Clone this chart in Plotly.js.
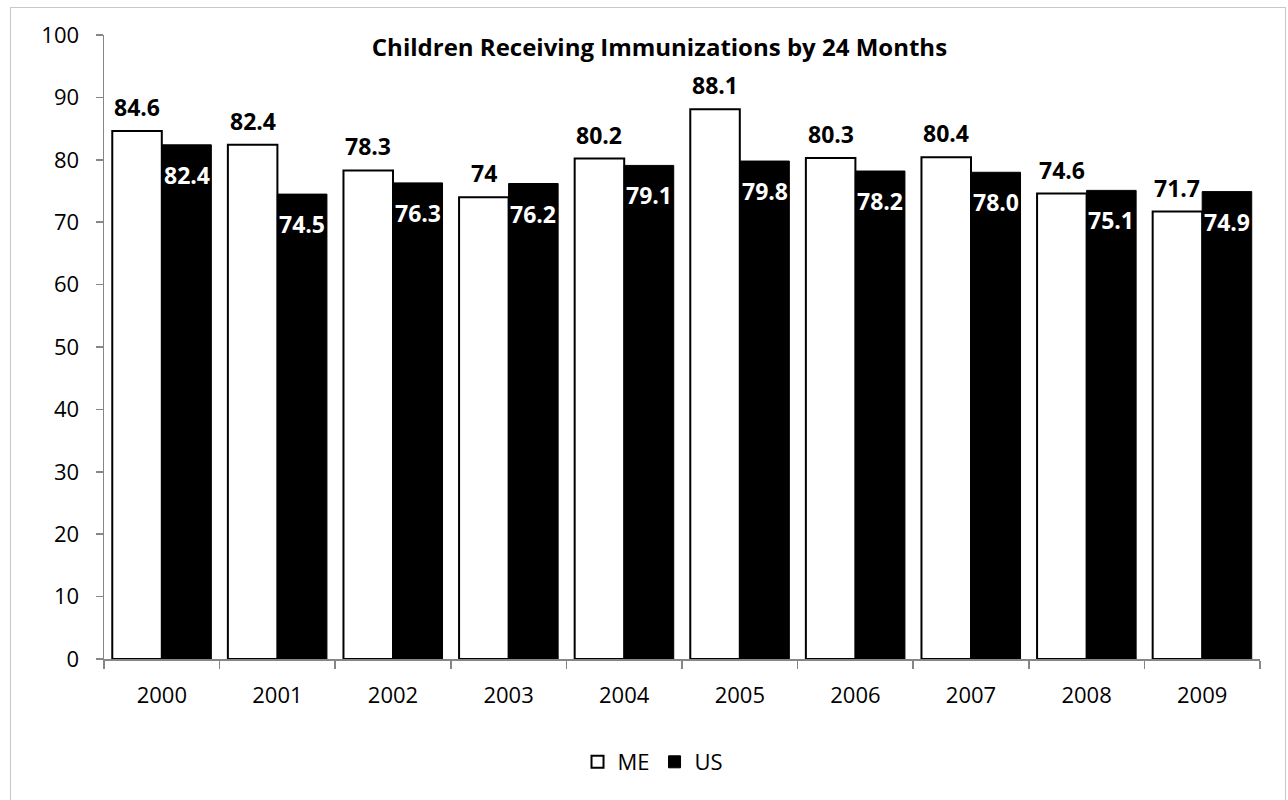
<!DOCTYPE html>
<html>
<head>
<meta charset="utf-8">
<script src="https://cdn.plot.ly/plotly-3.0.1.min.js"></script>
<style>
  html, body { margin: 0; padding: 0; background: #fff; }
  #frame { position: absolute; left: 10px; top: 7px; width: 1276px; height: 800px; border: 1px solid #c8c8c8; box-sizing: border-box; }
  #chart { position: absolute; left: 0; top: 0; width: 1288px; height: 800px; }
</style>
</head>
<body>
<div id="frame"></div>
<div id="chart"></div>
<script>
const years = ["2000","2001","2002","2003","2004","2005","2006","2007","2008","2009"];
const meValues = [84.6, 82.4, 78.3, 74, 80.2, 88.1, 80.3, 80.4, 74.6, 71.7];
const usValues = [82.4, 74.5, 76.3, 76.2, 79.1, 79.8, 78.2, 78.0, 75.1, 74.9];
const meLabels = ["84.6","82.4","78.3","74","80.2","88.1","80.3","80.4","74.6","71.7"];
const usLabels = ["82.4","74.5","76.3","76.2","79.1","79.8","78.2","78.0","75.1","74.9"];

const FONT = "'Open Sans', 'Noto Sans', sans-serif";
const AX = "#868686";

const traces = [
  { type: "bar", name: "ME", x: years, y: meValues,
    marker: { color: "#ffffff", line: { color: "#000000", width: 2 } },
    hoverinfo: "skip" },
  { type: "bar", name: "US", x: years, y: usValues,
    marker: { color: "#000000", line: { color: "#000000", width: 1 } },
    hoverinfo: "skip" }
];

const annotations = [];
years.forEach((yr, i) => {
  annotations.push({ x: i, y: meValues[i], xref: "x", yref: "y", text: "<b>" + meLabels[i] + "</b>",
    showarrow: false, xanchor: "center", yanchor: "bottom", xshift: -24.8, yshift: 6,
    font: { family: FONT, size: 23, color: "#000" } });
  annotations.push({ x: i, y: usValues[i], xref: "x", yref: "y", text: "<b>" + usLabels[i] + "</b>",
    showarrow: false, xanchor: "center", yanchor: "top", xshift: 24.8, yshift: -12,
    font: { family: FONT, size: 23, color: "#fff" } });
});

const layout = {
  width: 1288, height: 800,
  margin: { l: 104, r: 28, t: 35, b: 141, autoexpand: false },
  paper_bgcolor: "rgba(0,0,0,0)", plot_bgcolor: "rgba(0,0,0,0)",
  font: { family: FONT, size: 22, color: "#000" },
  title: { text: "<b>Children Receiving Immunizations by 24 Months</b>",
    font: { family: FONT, size: 24, color: "#000" },
    x: 0.512, xanchor: "center", y: 0.94, yanchor: "middle", xref: "container", yref: "container" },
  barmode: "group", bargap: 0.143, bargroupgap: 0,
  xaxis: { type: "category", range: [-0.5, 9.5], showline: true, linecolor: AX, linewidth: 1.5,
    ticks: "outside", tickson: "boundaries", ticklen: 8, tickcolor: AX, tickwidth: 1.5,
    showgrid: false, zeroline: false, ticklabelstandoff: 16, tickangle: 0, automargin: false,
    tickfont: { family: FONT, size: 22, color: "#000" } },
  yaxis: { range: [0, 100], dtick: 10, tick0: 0, showline: true, linecolor: AX, linewidth: 1.5,
    ticks: "outside", ticklen: 7, tickcolor: AX, tickwidth: 1.5, automargin: false,
    showgrid: false, zeroline: false, ticklabelstandoff: 12,
    tickfont: { family: FONT, size: 22, color: "#000" } },
  showlegend: true,
  legend: { orientation: "h", xref: "container", yref: "container", x: 0.507, xanchor: "center",
    y: 0.0475, yanchor: "middle",
    font: { family: FONT, size: 22, color: "#000" }, traceorder: "normal",
    itemwidth: 30, bgcolor: "rgba(0,0,0,0)" },
  annotations: annotations
};

Plotly.newPlot("chart", traces, layout, { displayModeBar: false, staticPlot: true });
</script>
</body>
</html>
